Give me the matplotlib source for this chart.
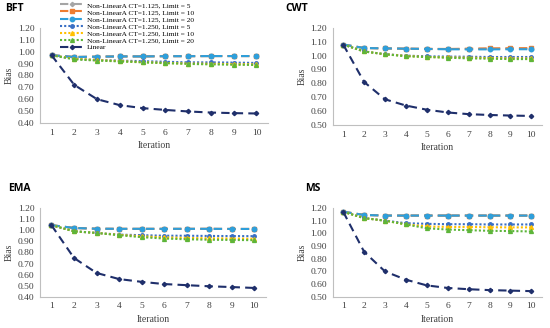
import matplotlib.pyplot as plt

iterations = [1, 2, 3, 4, 5, 6, 7, 8, 9, 10]

labels = ['Non-LinearA CT=1.125, Limit = 5', 'Non-LinearA CT=1.125, Limit = 10',
          'Non-LinearA CT=1.125, Limit = 20', 'Non-LinearA CT=1.250, Limit = 5',
          'Non-LinearA CT=1.250, Limit = 10', 'Non-LinearA CT=1.250, Limit = 20',
          'Linear']

# BFT
bft_c125_l5 = [0.97, 0.955, 0.958, 0.960, 0.960, 0.962, 0.962, 0.963, 0.963, 0.963]
bft_c125_l10 = [0.97, 0.955, 0.958, 0.960, 0.960, 0.962, 0.962, 0.963, 0.963, 0.963]
bft_c125_l20 = [0.97, 0.955, 0.958, 0.960, 0.960, 0.962, 0.962, 0.963, 0.963, 0.963]
bft_c250_l5 = [0.97, 0.940, 0.930, 0.925, 0.920, 0.915, 0.910, 0.910, 0.908, 0.905]
bft_c250_l10 = [0.97, 0.940, 0.930, 0.920, 0.912, 0.905, 0.900, 0.898, 0.895, 0.893]
bft_c250_l20 = [0.97, 0.935, 0.925, 0.918, 0.910, 0.903, 0.897, 0.893, 0.890, 0.888]
bft_linear = [0.97, 0.72, 0.60, 0.55, 0.525, 0.51, 0.497, 0.488, 0.483, 0.48]

# CWT
cwt_c125_l5 = [1.08, 1.055, 1.052, 1.050, 1.048, 1.047, 1.048, 1.050, 1.050, 1.050]
cwt_c125_l10 = [1.08, 1.055, 1.052, 1.050, 1.049, 1.048, 1.050, 1.052, 1.053, 1.054]
cwt_c125_l20 = [1.08, 1.055, 1.052, 1.050, 1.048, 1.046, 1.045, 1.045, 1.046, 1.046]
cwt_c250_l5 = [1.08, 1.030, 1.010, 1.000, 0.995, 0.993, 0.992, 0.990, 0.990, 0.990]
cwt_c250_l10 = [1.08, 1.030, 1.010, 0.998, 0.990, 0.987, 0.985, 0.982, 0.980, 0.980]
cwt_c250_l20 = [1.08, 1.030, 1.010, 0.995, 0.990, 0.985, 0.980, 0.978, 0.975, 0.975]
cwt_linear = [1.08, 0.81, 0.685, 0.64, 0.61, 0.59, 0.578, 0.572, 0.568, 0.565]

# EMA
ema_c125_l5 = [1.045, 1.020, 1.013, 1.012, 1.012, 1.012, 1.012, 1.012, 1.011, 1.011]
ema_c125_l10 = [1.045, 1.020, 1.013, 1.012, 1.012, 1.012, 1.012, 1.012, 1.011, 1.011]
ema_c125_l20 = [1.045, 1.020, 1.013, 1.012, 1.012, 1.012, 1.012, 1.012, 1.011, 1.011]
ema_c250_l5 = [1.045, 0.990, 0.975, 0.960, 0.955, 0.950, 0.950, 0.948, 0.947, 0.946]
ema_c250_l10 = [1.045, 0.990, 0.975, 0.958, 0.945, 0.935, 0.930, 0.927, 0.925, 0.923]
ema_c250_l20 = [1.045, 0.990, 0.975, 0.955, 0.937, 0.925, 0.918, 0.914, 0.912, 0.910]
ema_linear = [1.045, 0.75, 0.615, 0.56, 0.535, 0.515, 0.505, 0.495, 0.488, 0.48]

# MS
ms_c125_l5 = [1.17, 1.145, 1.140, 1.140, 1.140, 1.140, 1.140, 1.140, 1.140, 1.140]
ms_c125_l10 = [1.17, 1.145, 1.140, 1.140, 1.140, 1.140, 1.140, 1.140, 1.140, 1.140]
ms_c125_l20 = [1.17, 1.145, 1.140, 1.140, 1.140, 1.140, 1.140, 1.140, 1.140, 1.140]
ms_c250_l5 = [1.17, 1.120, 1.100, 1.080, 1.075, 1.072, 1.072, 1.070, 1.070, 1.070]
ms_c250_l10 = [1.17, 1.120, 1.100, 1.070, 1.055, 1.050, 1.050, 1.048, 1.047, 1.047]
ms_c250_l20 = [1.17, 1.120, 1.100, 1.070, 1.040, 1.030, 1.025, 1.020, 1.018, 1.015]
ms_linear = [1.17, 0.855, 0.70, 0.635, 0.59, 0.57, 0.56, 0.553, 0.549, 0.545]

colors = ['#A5A5A5', '#ED7D31', '#2E9FDB', '#3A6FC4', '#FFC000', '#5DB53A', '#1F2F6B']
styles = [(0, (4, 2.5)), (0, (4, 2.5)), (0, (4, 2.5)), (0, (1, 1)), (0, (1, 1)), (0, (1, 1)), (0, (4, 2.5))]
markers = ['D', 's', 'o', 'o', '^', '^', 'D']
msizes = [2.2, 2.2, 3.2, 2.5, 2.8, 2.8, 2.2]

panels = [
    ('BFT', [bft_c125_l5, bft_c125_l10, bft_c125_l20, bft_c250_l5, bft_c250_l10, bft_c250_l20, bft_linear],
     [0.073, 0.625, 0.414, 0.29], 0.40),
    ('CWT', [cwt_c125_l5, cwt_c125_l10, cwt_c125_l20, cwt_c250_l5, cwt_c250_l10, cwt_c250_l20, cwt_linear],
     [0.605, 0.619, 0.38, 0.296], 0.50),
    ('EMA', [ema_c125_l5, ema_c125_l10, ema_c125_l20, ema_c250_l5, ema_c250_l10, ema_c250_l20, ema_linear],
     [0.073, 0.095, 0.41, 0.271], 0.40),
    ('MS', [ms_c125_l5, ms_c125_l10, ms_c125_l20, ms_c250_l5, ms_c250_l10, ms_c250_l20, ms_linear],
     [0.605, 0.095, 0.38, 0.271], 0.50),
]
title_pos = {'BFT': (0.009, 0.975), 'CWT': (0.518, 0.975), 'EMA': (0.014, 0.425), 'MS': (0.555, 0.425)}

plt.rcParams['font.family'] = 'Liberation Serif'
fig = plt.figure(figsize=(5.5, 3.28), dpi=100)

handles = []
for name, series, rect, ymin in panels:
    ax = fig.add_axes(rect)
    for i, s in enumerate(series):
        ln, = ax.plot(iterations, s, color=colors[i], linestyle=styles[i], marker=markers[i],
                      markersize=msizes[i], linewidth=1.5, label=labels[i])
        if name == 'BFT':
            handles.append(ln)
    ax.set_xlim(0.5, 10.5)
    ax.set_ylim(ymin, 1.20)
    yt = [round(ymin + 0.1 * k, 2) for k in range(int(round((1.2 - ymin) / 0.1)) + 1)]
    ax.set_yticks(yt)
    ax.set_yticklabels(['%.2f' % v for v in yt])
    ax.set_xticks(iterations)
    ax.tick_params(labelsize=6.8, length=0, pad=4, colors='#404040')
    for sp in ['top', 'right']:
        ax.spines[sp].set_visible(False)
    for sp in ['left', 'bottom']:
        ax.spines[sp].set_color('#BFBFBF')
        ax.spines[sp].set_linewidth(0.8)
    ax.set_xlabel('Iteration', fontsize=7, color='#404040', labelpad=3)
    ax.set_ylabel('Bias', fontsize=7, color='#404040', labelpad=3)
    tx, ty = title_pos[name]
    fig.text(tx, ty, name, fontsize=7.5, fontweight='bold', family='Open Sans', va='center')

fig.legend(handles=handles, loc='upper left', bbox_to_anchor=(0.1, 1.01), fontsize=5.3,
           frameon=False, labelspacing=0.12, handlelength=3.2, handletextpad=0.4,
           borderpad=0.2)

fig.savefig('out.png', dpi=100)
